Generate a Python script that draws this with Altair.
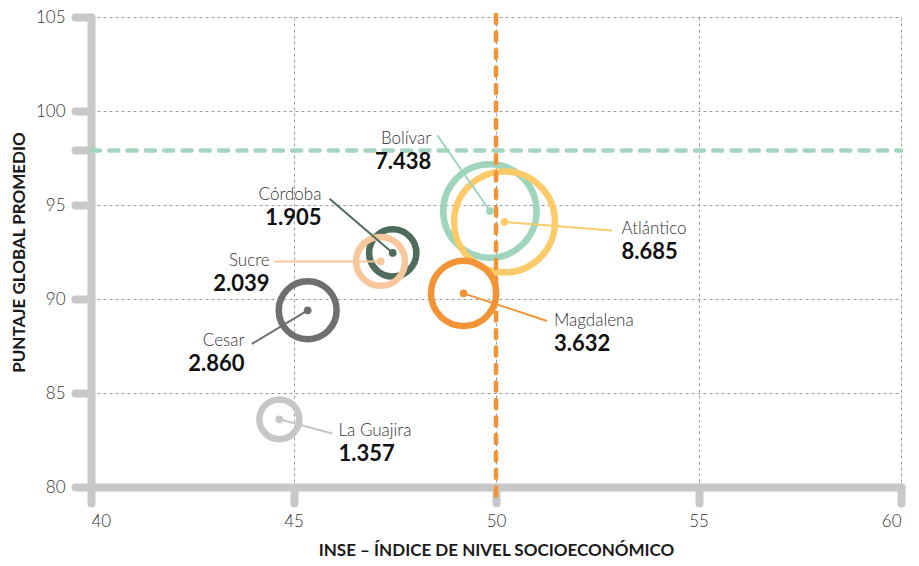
import altair as alt
import pandas as pd

# ---------------- data ----------------
departamentos = ["La Guajira", "Cesar", "Córdoba", "Sucre", "Bolívar", "Atlántico", "Magdalena"]
inse = [44.65, 45.35, 47.45, 47.15, 49.85, 50.21, 49.20]
puntaje = [83.6, 89.4, 92.45, 92.0, 94.68, 94.10, 90.30]
estudiantes = [1357, 2860, 1905, 2039, 7438, 8685, 3632]

inse_ref = 50
puntaje_ref = 97.9

x_ticks = [40, 45, 50, 55, 60]
y_ticks = [80, 85, 90, 95, puntaje_ref, 100, 105]

# ---------------- styles / layout ----------------
colores = ["#c6c6c6", "#6f6f6f", "#4e6b5c", "#f8c79b", "#9fd4bd", "#fbcb6a", "#f29436"]
# label anchor offset (dx, dy), leader end offset (dx, dy), alignment  -- in data units
layout = {
    "La Guajira": (1.46, -1.22, 1.31, -0.75, "left"),
    "Cesar": (-1.56, -2.24, -1.38, -1.79, "right"),
    "Córdoba": (-1.76, 2.51, -1.56, 2.88, "right"),
    "Sucre": (-2.74, -0.58, -2.62, 0.0, "right"),
    "Bolívar": (-1.45, 3.26, -1.30, 4.03, "right"),
    "Atlántico": (2.89, -0.97, 2.65, -0.46, "left"),
    "Magdalena": (2.23, -2.05, 2.06, -1.47, "left"),
}

W, H = 810, 470
FONT = "Lato"

rows = []
for i, d in enumerate(departamentos):
    ldx, ldy, edx, edy, al = layout[d]
    rows.append({
        "dep": d, "inse": inse[i], "puntaje": puntaje[i], "valor": estudiantes[i],
        "etiqueta": f"{estudiantes[i]:,}".replace(",", "."),
        "lx": inse[i] + ldx, "ly": puntaje[i] + ldy,
        "ex": inse[i] + edx, "ey": puntaje[i] + edy,
        "align": al, "orden": i,
    })
df = pd.DataFrame(rows)

xs = alt.Scale(domain=[40, 60], nice=False, zero=False)
ys = alt.Scale(domain=[80, 105], nice=False, zero=False)
cs = alt.Scale(domain=departamentos, range=colores)

x_axis = alt.Axis(
    values=x_ticks, title="INSE – ÍNDICE DE NIVEL SOCIOECONÓMICO",
    titleY=63, titleBaseline="middle", labelPadding=10,
)
y_axis = alt.Axis(
    values=y_ticks, title="PUNTAJE GLOBAL PROMEDIO",
    labelExpr="datum.value % 5 == 0 ? datum.value : ''",
    gridOpacity=alt.condition("datum.value == 97.9", alt.value(0), alt.value(1)),
    titleX=-72, titleBaseline="middle", labelPadding=10,
)

base = alt.Chart(df)

circles = base.mark_point(filled=False, shape="circle", strokeWidth=6.5, opacity=1).encode(
    x=alt.X("inse:Q", scale=xs, axis=x_axis),
    y=alt.Y("puntaje:Q", scale=ys, axis=y_axis),
    size=alt.Size("valor:Q", scale=alt.Scale(type="linear", domain=[0, 10000], range=[0, 11720]), legend=None),
    color=alt.Color("dep:N", scale=cs, legend=None),
    order=alt.Order("orden:Q"),
)

ref_h = alt.Chart(pd.DataFrame({"y": [puntaje_ref]})).mark_rule(
    color="#a3d5bf", strokeWidth=4.5, strokeDash=[9, 9.3], strokeCap="round"
).encode(
    y=alt.Y("y:Q", scale=ys),
    x=alt.datum(40, scale=xs), x2=alt.datum(60),
)

ref_v = alt.Chart(pd.DataFrame({"x": [inse_ref]})).mark_rule(
    color="#f29436", strokeWidth=4.5, strokeDash=[8, 9.5], strokeCap="round", clip=False
).encode(
    x=alt.X("x:Q", scale=xs),
    y=alt.value(-2), y2=alt.value(H + 16),
)

leaders = base.mark_rule(strokeWidth=2).encode(
    x=alt.X("inse:Q", scale=xs), y=alt.Y("puntaje:Q", scale=ys),
    x2="ex:Q", y2="ey:Q",
    color=alt.Color("dep:N", scale=cs, legend=None),
)

dots = base.mark_circle(size=60, opacity=1).encode(
    x=alt.X("inse:Q", scale=xs), y=alt.Y("puntaje:Q", scale=ys),
    color=alt.Color("dep:N", scale=cs, legend=None),
)

def labels(al):
    b = base.transform_filter(f"datum.align == '{al}'")
    name = b.mark_text(align=al, baseline="middle", dy=-11, font=FONT, fontSize=17,
                       fontWeight=300, color="#333333").encode(
        x=alt.X("lx:Q", scale=xs), y=alt.Y("ly:Q", scale=ys), text="dep:N")
    num = b.mark_text(align=al, baseline="middle", dy=12, font=FONT, fontSize=22,
                      fontWeight="bold", color="#111111").encode(
        x=alt.X("lx:Q", scale=xs), y=alt.Y("ly:Q", scale=ys), text="etiqueta:N")
    return name + num

chart = alt.layer(
    circles, ref_h, ref_v, leaders, dots, labels("left"), labels("right")
).properties(
    width=W, height=H,
    autosize=alt.AutoSizeParams(type="none"),
    padding={"left": 83, "top": 9, "right": 10, "bottom": 71},
).configure_view(stroke=None).configure_axis(
    domainColor="#c8c8c8", domainWidth=8, domainCap="round",
    tickColor="#c8c8c8", tickWidth=8, tickCap="round", tickSize=16,
    gridColor="#9a9a9a", gridDash=[3, 3], gridWidth=1,
    labelFont=FONT, labelFontSize=17, labelFontWeight=300, labelColor="#333333",
    titleFont=FONT, titleFontSize=17, titleFontWeight="bold", titleColor="#1a1a1a",
)

chart.save("out.html", embed_options={"renderer": "svg", "actions": False})
